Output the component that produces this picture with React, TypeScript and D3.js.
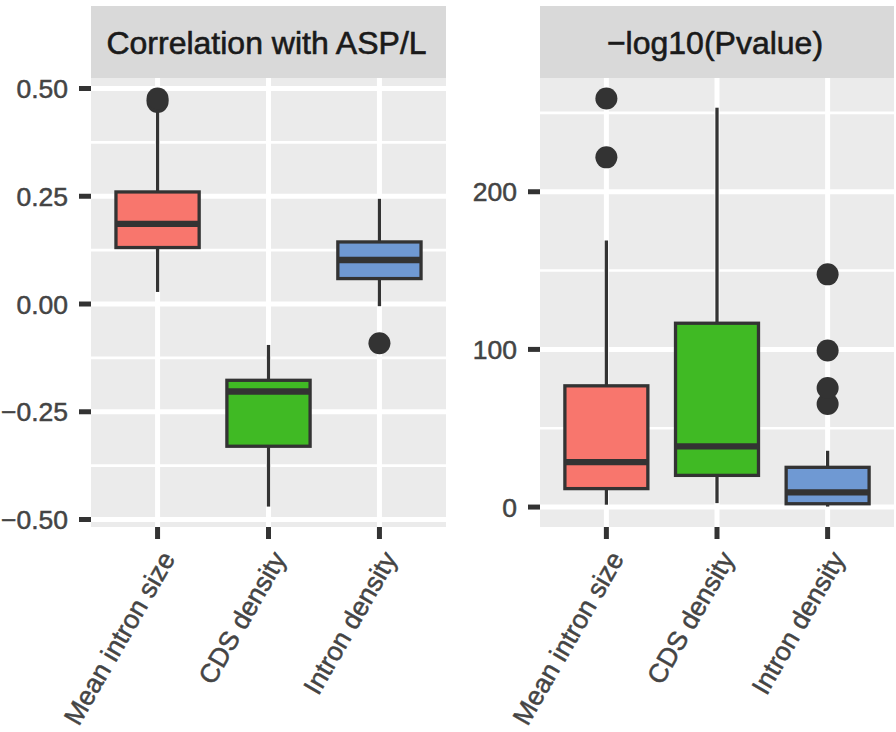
import React from "react";
import * as d3 from "d3";

// ---------- data ----------
const categories = ["Mean intron size", "CDS density", "Intron density"];
const fills = ["#F8766D", "#40BA24", "#6F99D3"];

// Panel 1: Correlation with ASP/L
const corrLow = [0.028, -0.47, -0.005];
const corrQ1 = [0.131, -0.33, 0.059];
const corrMed = [0.186, -0.203, 0.102];
const corrQ3 = [0.26, -0.177, 0.144];
const corrHigh = [0.45, -0.095, 0.244];
const corrOutliers = [[0.469, 0.477], [], [-0.091]];
const corrTicks = [-0.5, -0.25, 0, 0.25, 0.5];
const corrTickLabels = ["\u22120.50", "\u22120.25", "0.00", "0.25", "0.50"];

// Panel 2: -log10(Pvalue)
const pLow = [1.5, 2.5, 0.3];
const pQ1 = [11.7, 20.1, 2.1];
const pMed = [28.5, 38.5, 9.3];
const pQ3 = [76.9, 116.6, 25.2];
const pHigh = [169, 253.3, 35.7];
const pOutliers = [[221.8, 259.2], [], [65.4, 75.5, 99.3, 147.6]];
const pTicks = [0, 100, 200];
const pTickLabels = ["0", "100", "200"];

const stripTitles = ["Correlation with ASP/L", "\u2212log10(Pvalue)"];

// ---------- layout ----------
const W = 896;
const H = 732;
const panelTop = 78;
const panelBottom = 527;
const stripTop = 6;
const FONT = "'Liberation Sans', Arial, Helvetica, sans-serif";

type Panel = {
  x0: number;
  x1: number;
  low: number[];
  q1: number[];
  med: number[];
  q3: number[];
  high: number[];
  outliers: number[][];
  ticks: number[];
  tickLabels: string[];
  title: string;
};

const panels: Panel[] = [
  {
    x0: 91, x1: 446,
    low: corrLow, q1: corrQ1, med: corrMed, q3: corrQ3, high: corrHigh,
    outliers: corrOutliers, ticks: corrTicks, tickLabels: corrTickLabels,
    title: stripTitles[0],
  },
  {
    x0: 540, x1: 894,
    low: pLow, q1: pQ1, med: pMed, q3: pQ3, high: pHigh,
    outliers: pOutliers, ticks: pTicks, tickLabels: pTickLabels,
    title: stripTitles[1],
  },
];

function PanelView({ p }: { p: Panel }) {
  const allVals = [...p.low, ...p.high, ...p.outliers.flat()];
  const mn = d3.min(allVals) as number;
  const mx = d3.max(allVals) as number;
  const pad = (mx - mn) * 0.05;
  const y = d3.scaleLinear().domain([mn - pad, mx + pad]).range([panelBottom, panelTop]);

  // discrete x: ggplot style expansion 0.6 units
  const unit = (p.x1 - p.x0) / (categories.length - 1 + 1.2);
  const x = d3
    .scalePoint<string>()
    .domain(categories)
    .range([p.x0 + 0.6 * unit, p.x1 - 0.6 * unit]);
  const bw = 0.75 * unit;

  const step = p.ticks[1] - p.ticks[0];
  const minor = p.ticks
    .map((t) => t + step / 2)
    .concat([p.ticks[0] - step / 2])
    .filter((v) => y(v) >= panelTop && y(v) <= panelBottom);

  const dark = "#333333";
  const tickLen = 12;
  const axisCol = "#444444";

  return (
    <g>
      {/* strip */}
      <rect x={p.x0} y={stripTop} width={p.x1 - p.x0} height={panelTop - stripTop} fill="#D9D9D9" />
      <text
        x={(p.x0 + p.x1) / 2 - 2}
        y={54}
        textAnchor="middle"
        fontSize={32}
        fill="#1A1A1A"
        stroke="#1A1A1A"
        strokeWidth={0.6}
        fontFamily={FONT}
      >
        {p.title}
      </text>
      {/* panel background */}
      <rect x={p.x0} y={panelTop} width={p.x1 - p.x0} height={panelBottom - panelTop} fill="#EBEBEB" />
      {/* minor grid */}
      {minor.map((v, i) => (
        <line key={"mn" + i} x1={p.x0} x2={p.x1} y1={y(v)} y2={y(v)} stroke="#FFFFFF" strokeWidth={2.6} />
      ))}
      {/* major grid */}
      {p.ticks.map((v, i) => (
        <line key={"mj" + i} x1={p.x0} x2={p.x1} y1={y(v)} y2={y(v)} stroke="#FFFFFF" strokeWidth={5} />
      ))}
      {categories.map((c) => (
        <line key={"vx" + c} x1={x(c)} x2={x(c)} y1={panelTop} y2={panelBottom} stroke="#FFFFFF" strokeWidth={5} />
      ))}
      {/* boxes */}
      {categories.map((c, i) => {
        const cx = x(c) as number;
        return (
          <g key={"box" + c}>
            <line x1={cx} x2={cx} y1={y(p.q3[i])} y2={y(p.high[i])} stroke={dark} strokeWidth={3.3} />
            <line x1={cx} x2={cx} y1={y(p.q1[i])} y2={y(p.low[i])} stroke={dark} strokeWidth={3.3} />
            <rect
              x={cx - bw / 2}
              y={y(p.q3[i])}
              width={bw}
              height={y(p.q1[i]) - y(p.q3[i])}
              fill={fills[i]}
              stroke={dark}
              strokeWidth={3.3}
            />
            <line x1={cx - bw / 2} x2={cx + bw / 2} y1={y(p.med[i])} y2={y(p.med[i])} stroke={dark} strokeWidth={6.4} />
            {p.outliers[i].map((o, j) => (
              <circle key={j} cx={cx} cy={y(o)} r={11} fill={dark} />
            ))}
          </g>
        );
      })}
      {/* y axis ticks + labels */}
      {p.ticks.map((v, i) => (
        <g key={"yt" + i}>
          <line x1={p.x0 - tickLen} x2={p.x0} y1={y(v)} y2={y(v)} stroke={dark} strokeWidth={5} />
          <text
            x={p.x0 - tickLen - 11}
            y={y(v)}
            dy="0.36em"
            textAnchor="end"
            fontSize={26.5}
            fill={axisCol}
            stroke={axisCol}
            strokeWidth={0.5}
            fontFamily={FONT}
          >
            {p.tickLabels[i]}
          </text>
        </g>
      ))}
      {/* x axis ticks + labels */}
      {categories.map((c) => {
        const cx = x(c) as number;
        const ay = panelBottom + 21;
        return (
          <g key={"xt" + c}>
            <line x1={cx} x2={cx} y1={panelBottom} y2={panelBottom + tickLen} stroke={dark} strokeWidth={5} />
            <text
              transform={`translate(${cx},${ay}) rotate(-60)`}
              dy="0.8em"
              textAnchor="end"
              fontSize={26.5}
              fill={axisCol}
              stroke={axisCol}
              strokeWidth={0.5}
              fontFamily={FONT}
            >
              {c}
            </text>
          </g>
        );
      })}
    </g>
  );
}

export default function App() {
  return (
    <svg
      width={W}
      height={H}
      viewBox={`0 0 ${W} ${H}`}
      style={{ position: "absolute", left: 0, top: 0, background: "#FFFFFF" }}
    >
      <rect x={0} y={0} width={W} height={H} fill="#FFFFFF" />
      {panels.map((p, i) => (
        <PanelView key={i} p={p} />
      ))}
    </svg>
  );
}
